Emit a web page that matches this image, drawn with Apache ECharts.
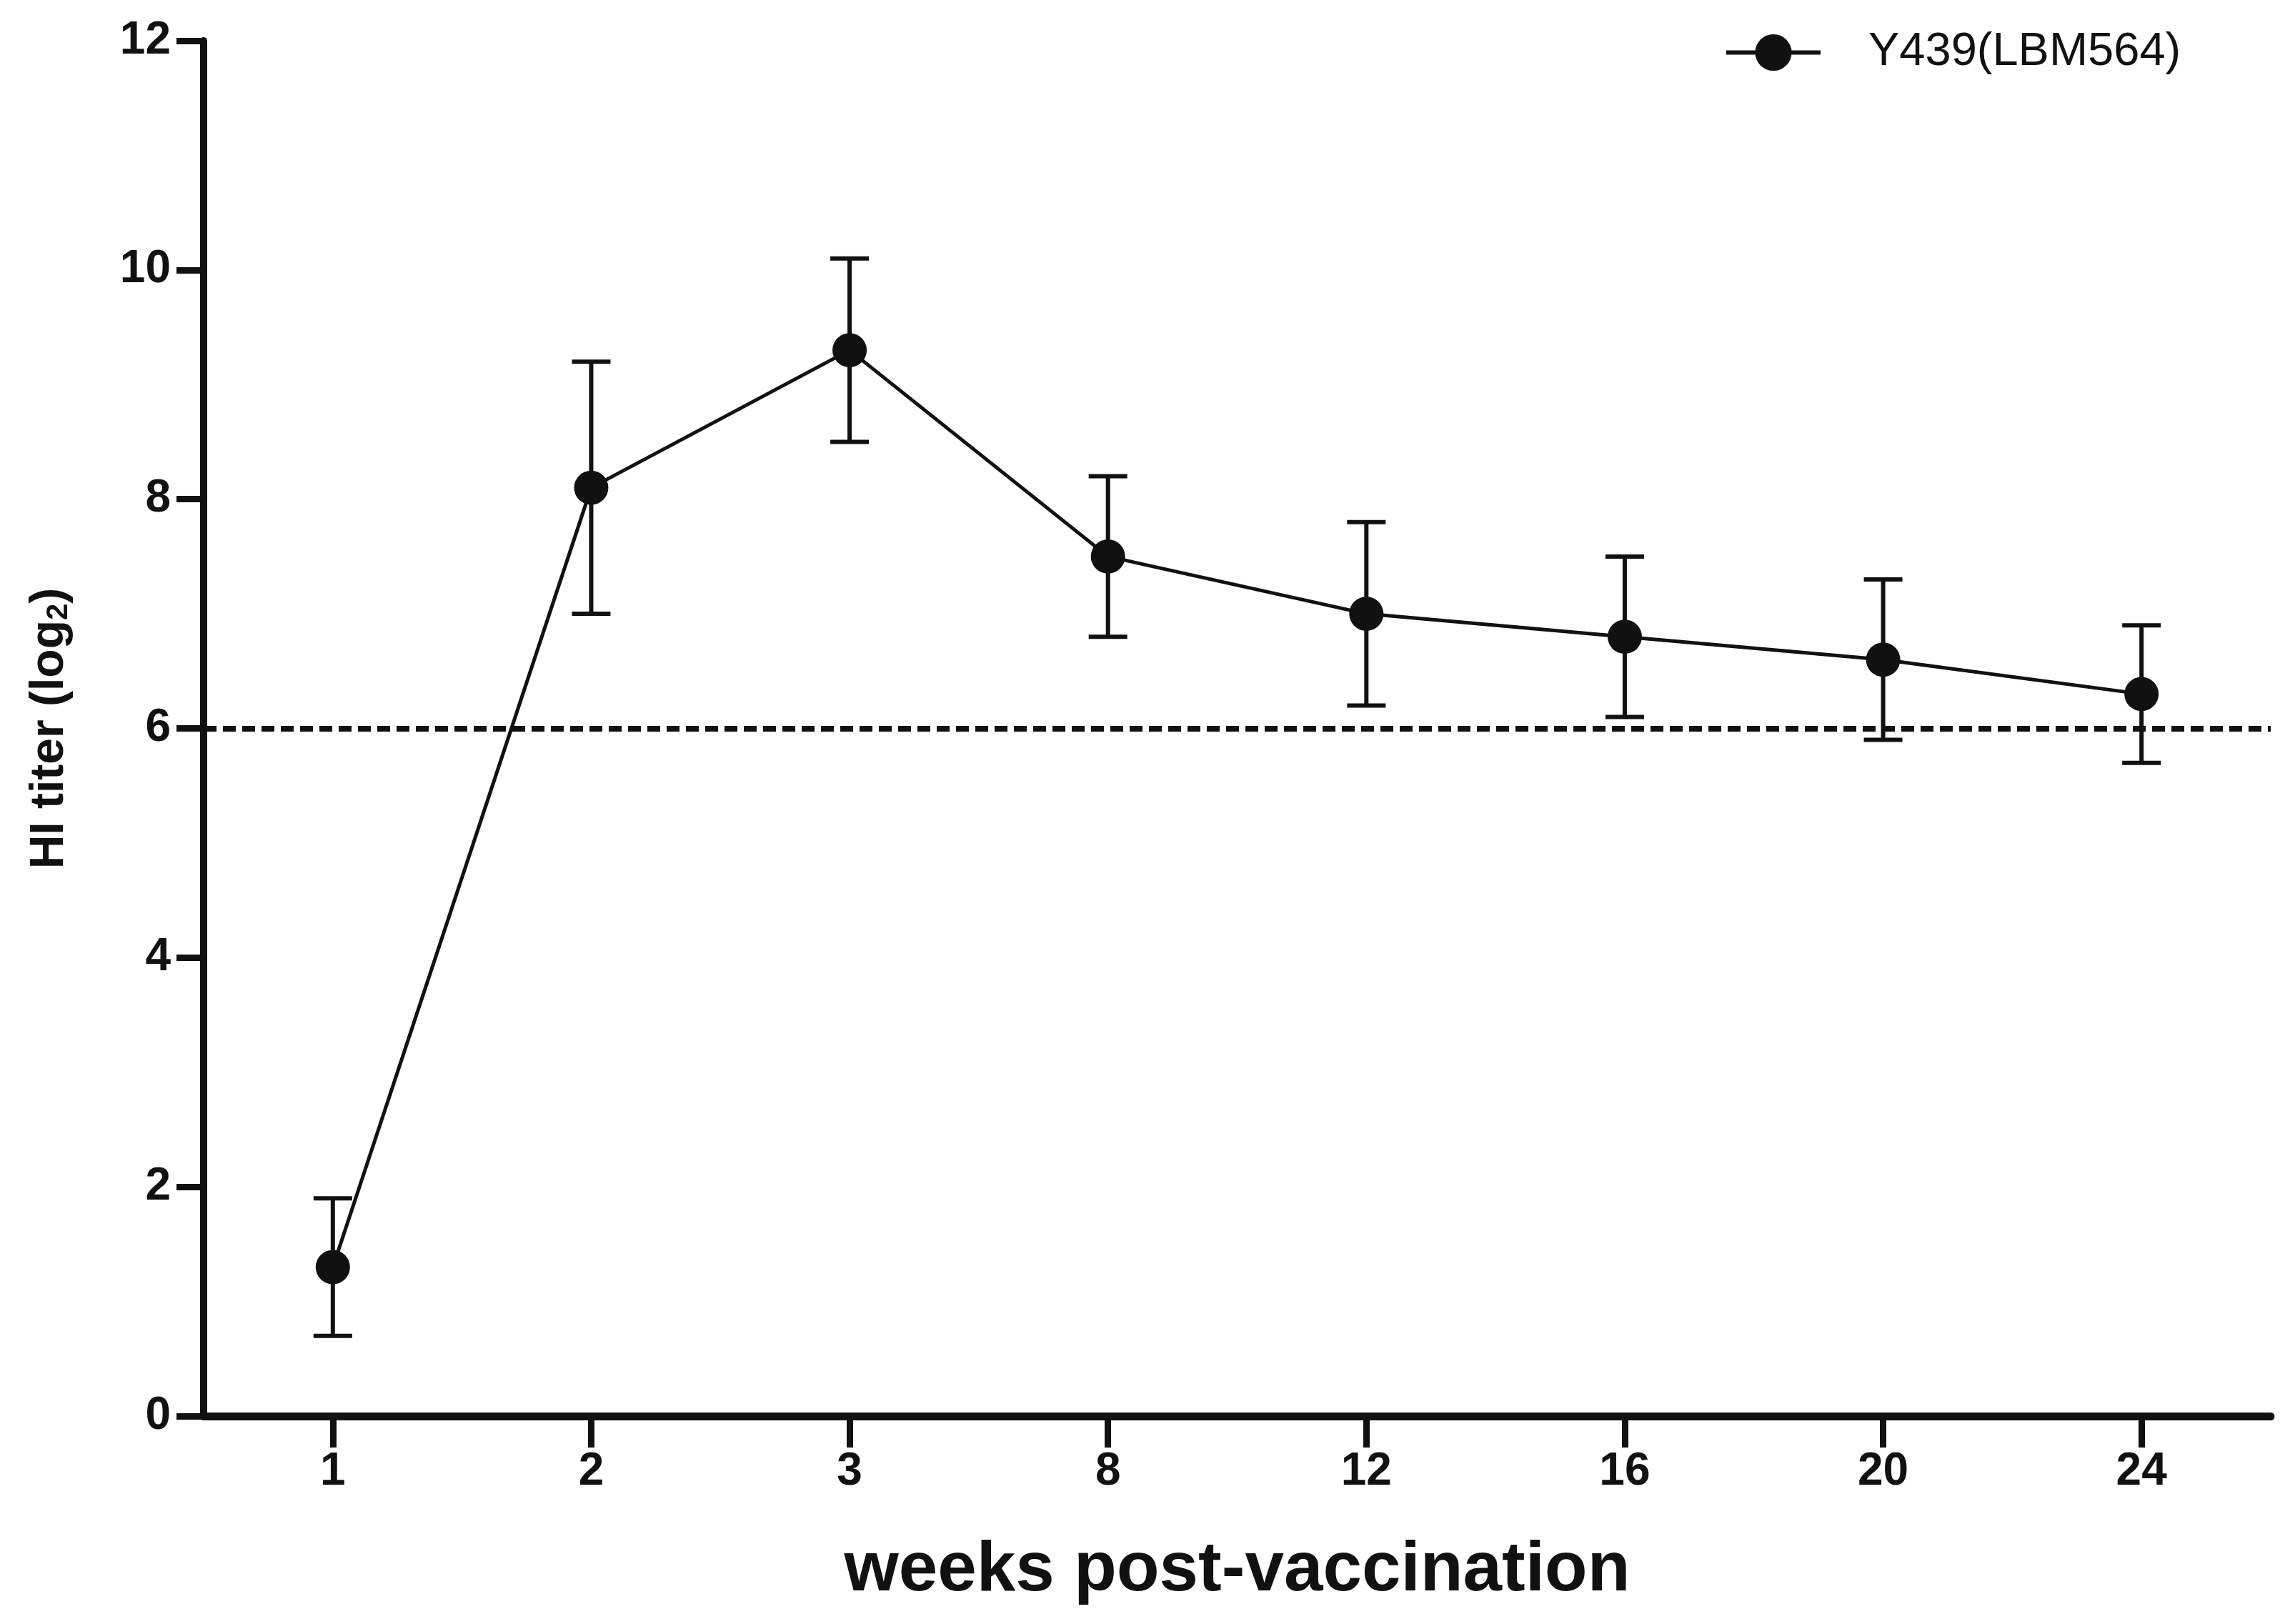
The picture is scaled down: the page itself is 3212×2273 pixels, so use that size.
<!DOCTYPE html>
<html>
<head>
<meta charset="utf-8">
<script src="https://cdn.jsdelivr.net/npm/echarts@6/dist/echarts.min.js"></script>
<style>
html,body{margin:0;padding:0;background:#fff;}
#c{width:3212px;height:2273px;}
</style>
</head>
<body>
<div id="c"></div>
<script>
const categories = ['1','2','3','8','12','16','20','24'];
const means = [1.3, 8.1, 9.3, 7.5, 7.0, 6.8, 6.6, 6.3];
const errLow = [0.7, 7.0, 8.5, 6.8, 6.2, 6.1, 5.9, 5.7];
const errHigh = [1.9, 9.2, 10.1, 8.2, 7.8, 7.5, 7.3, 6.9];
const yTicks = [0, 2, 4, 6, 8, 10, 12];
const threshold = 6;
const seriesName = 'Y439(LBM564)';

const FONT = '"Liberation Sans", Arial, sans-serif';
const INK = '#111111';

const errData = categories.map((c, i) => [i, errLow[i], errHigh[i]]);

const chart = echarts.init(document.getElementById('c'), null, {renderer: 'canvas'});
chart.setOption({
  backgroundColor: '#ffffff',
  animation: false,
  grid: {left: 285, right: 34, top: 57, bottom: 291, containLabel: false},
  legend: {
    data: [{name: seriesName}],
    left: 2408,
    top: 36,
    itemWidth: 132,
    itemHeight: 64,
    lineStyle: {width: 6, color: INK},
    textStyle: {fontFamily: FONT, fontSize: 65, color: INK, padding: [0, 0, 0, 62]}
  },
  xAxis: {
    type: 'category',
    data: categories,
    boundaryGap: true,
    axisLine: {show: true, onZero: false, lineStyle: {color: INK, width: 11}},
    axisTick: {show: true, alignWithLabel: true, length: 44, lineStyle: {color: INK, width: 9}},
    axisLabel: {fontFamily: FONT, fontWeight: 'bold', fontSize: 64, color: INK, margin: 46},
    splitLine: {show: false},
    name: 'weeks post-vaccination',
    nameLocation: 'middle',
    nameGap: 168,
    nameTextStyle: {fontFamily: FONT, fontWeight: 'bold', fontSize: 98, color: INK}
  },
  yAxis: {
    type: 'value',
    min: yTicks[0],
    max: yTicks[yTicks.length - 1],
    interval: 2,
    axisLine: {show: true, lineStyle: {color: INK, width: 10}},
    axisTick: {show: true, length: 38, lineStyle: {color: INK, width: 9}},
    axisLabel: {fontFamily: FONT, fontWeight: 'bold', fontSize: 64, color: INK, margin: 46},
    splitLine: {show: false},
    name: '{a|HI titer (log}{s|2}{a|)}',
    nameLocation: 'middle',
    nameRotate: 90,
    nameGap: 182,
    nameTextStyle: {
      rich: {
        a: {fontFamily: FONT, fontWeight: 'bold', fontSize: 66, color: INK},
        s: {fontFamily: FONT, fontWeight: 'bold', fontSize: 42, color: INK, verticalAlign: 'bottom', padding: [22, 0, 0, 0]}
      }
    }
  },
  series: [
    {
      type: 'custom',
      name: 'err',
      z: 1,
      silent: true,
      data: errData,
      renderItem: function (params, api) {
        const x = api.value(0);
        const lo = api.coord([x, api.value(1)]);
        const hi = api.coord([x, api.value(2)]);
        const half = 27;
        const st = {stroke: INK, lineWidth: 6};
        return {
          type: 'group',
          children: [
            {type: 'line', shape: {x1: lo[0], y1: lo[1], x2: hi[0], y2: hi[1]}, style: st},
            {type: 'line', shape: {x1: lo[0] - half, y1: lo[1], x2: lo[0] + half, y2: lo[1]}, style: st},
            {type: 'line', shape: {x1: hi[0] - half, y1: hi[1], x2: hi[0] + half, y2: hi[1]}, style: st}
          ]
        };
      }
    },
    {
      type: 'line',
      name: seriesName,
      z: 3,
      data: means,
      symbol: 'circle',
      symbolSize: 48,
      lineStyle: {color: INK, width: 5},
      itemStyle: {color: INK, borderWidth: 0},
      markLine: {
        silent: true,
        symbol: 'none',
        label: {show: false},
        lineStyle: {color: INK, width: 8, type: [18, 9]},
        data: [{yAxis: threshold}]
      }
    }
  ]
});
</script>
</body>
</html>
